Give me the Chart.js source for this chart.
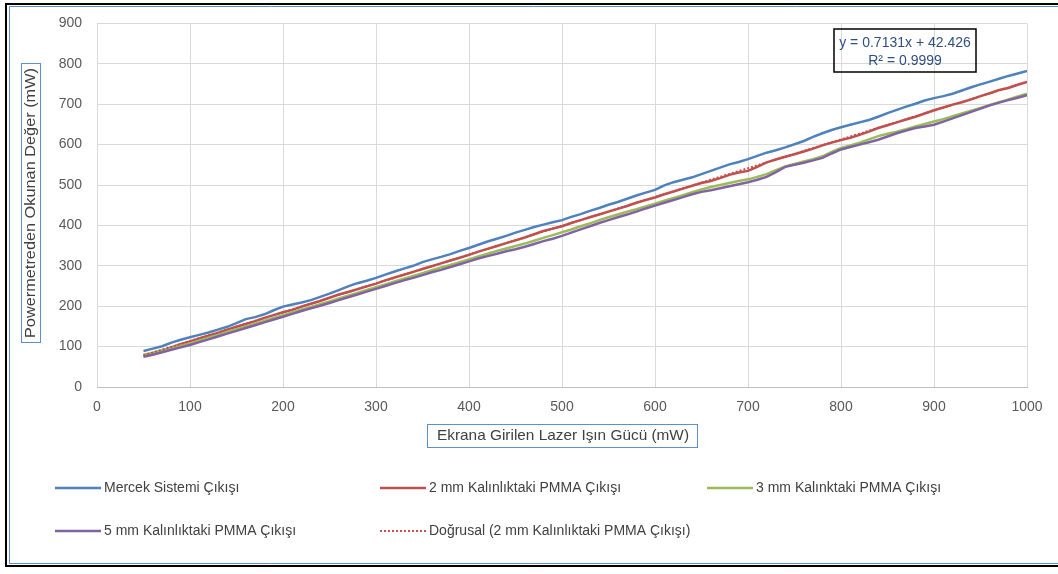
<!DOCTYPE html>
<html>
<head>
<meta charset="utf-8">
<script src="https://cdn.jsdelivr.net/npm/chart.js@4.4.1/dist/chart.umd.min.js"></script>
<style>
  html, body { margin: 0; padding: 0; background: #ffffff; }
  #wrap { width: 1058px; height: 574px; position: relative; }
</style>
</head>
<body>
<div id="wrap"><canvas id="laserChart" width="1058" height="574"></canvas></div>
<script>
// Input laser power (mW), 50 .. 1000 step 10
const laserInput = [
  50, 60, 70, 80, 90, 100, 110, 120, 130, 140, 150, 160, 170, 180, 190, 200,
  210, 220, 230, 240, 250, 260, 270, 280, 290, 300, 310, 320, 330, 340, 350,
  360, 370, 380, 390, 400, 410, 420, 430, 440, 450, 460, 470, 480, 490, 500,
  510, 520, 530, 540, 550, 560, 570, 580, 590, 600, 610, 620, 630, 640, 650,
  660, 670, 680, 690, 700, 710, 720, 730, 740, 750, 760, 770, 780, 790, 800,
  810, 820, 830, 840, 850, 860, 870, 880, 890, 900, 910, 920, 930, 940, 950,
  960, 970, 980, 990, 1000
];

const mercekOut = [
  89, 95, 101, 110, 117, 123, 129, 135, 142, 149, 158, 168, 173, 180, 190, 199,
  204, 209, 215, 223, 231, 240, 249, 257, 263, 270, 278, 286, 293, 300, 309,
  316, 322, 329, 337, 344, 352, 360, 367, 374, 382, 389, 396, 402, 408, 413,
  421, 428, 436, 443, 451, 458, 466, 474, 481, 488, 499, 507, 513, 519, 527,
  535, 543, 551, 557, 564, 572, 580, 586, 593, 601, 609, 619, 628, 636, 643,
  649, 655, 661, 669, 678, 686, 694, 701, 709, 715, 720, 726, 734, 742, 749,
  756, 763, 770, 776, 782
];

const pmma2mm = [
  78, 83, 90, 98, 106, 113, 120, 127, 134, 142, 149, 156, 163, 171, 178, 185,
  191, 199, 206, 213, 221, 229, 235, 242, 249, 256, 264, 271, 278, 285, 292,
  299, 306, 313, 320, 327, 335, 342, 349, 356, 363, 370, 378, 386, 392, 398,
  406, 413, 420, 427, 434, 441, 448, 456, 463, 469, 477, 484, 491, 498, 505,
  510, 517, 525, 531, 535, 545, 556, 563, 570, 576, 583, 590, 598, 605, 611,
  617, 624, 632, 641, 648, 655, 662, 669, 677, 685, 692, 699, 705, 712, 720,
  727, 735, 740, 748, 755
];

const pmma3mm = [
  80, 85, 91, 96, 102, 108, 115, 122, 129, 136, 143, 150, 157, 164, 171, 178,
  185, 192, 198, 205, 212, 219, 226, 233, 240, 247, 254, 261, 268, 275, 282,
  289, 296, 302, 309, 316, 323, 330, 337, 343, 349, 355, 362, 369, 376, 383,
  390, 398, 405, 413, 420, 427, 434, 440, 447, 454, 461, 468, 475, 482, 489,
  495, 500, 505, 510, 514, 520, 527, 537, 546, 552, 558, 564, 571, 582, 592,
  598, 605, 613, 621, 627, 632, 638, 645, 651, 657, 663, 670, 677, 684, 691,
  698, 705, 712, 719, 726
];

const pmma5mm = [
  75, 80, 86, 92, 98, 104, 111, 118, 125, 132, 139, 146, 153, 160, 167, 174,
  181, 188, 195, 201, 208, 215, 222, 229, 236, 243, 250, 257, 264, 270, 277,
  284, 290, 297, 304, 311, 318, 324, 330, 336, 341, 347, 354, 361, 367, 374,
  382, 390, 398, 406, 413, 420, 427, 434, 442, 449, 456, 463, 470, 477, 483,
  487, 492, 497, 502, 507, 513, 520, 532, 545, 550, 555, 561, 567, 578, 588,
  594, 600, 606, 612, 620, 628, 635, 641, 645, 649, 657, 665, 673, 681, 689,
  697, 704, 710, 716, 722
];

// Linear trendline of the 2 mm series (end points)
const trendX = [50, 1000];
const trendY = [78.1, 755.5];

const seriesNames = [
  "Mercek Sistemi Çıkışı",
  "2 mm Kalınlıktaki PMMA Çıkışı",
  "3 mm Kalınktaki PMMA Çıkışı",
  "5 mm Kalınlıktaki PMMA Çıkışı",
  "Doğrusal (2 mm Kalınlıktaki PMMA Çıkışı)"
];
const equationLines = ["y = 0.7131x + 42.426", "R² = 0.9999"];
const xTitle = "Ekrana Girilen Lazer Işın Gücü (mW)";
const yTitle = "Powermetreden Okunan Değer (mW)";

const FONT = "'Liberation Sans', Arial, sans-serif";
const colors = ["#4F81BD", "#C0504D", "#9BBB59", "#8064A2", "#C0504D"];

function toPoints(xs, ys) {
    return xs.map((x, i) => ({ x: x, y: ys[i] }));
}

// draw centred text stretched/squeezed to a given width (Calibri look-alike)
function fitText(ctx, text, width) {
    const w = ctx.measureText(text).width;
    ctx.save();
    ctx.scale(width / w, 1);
    ctx.fillText(text, 0, 0);
    ctx.restore();
}

// Frame, axis title boxes, equation box and legend
const excelDecor = {
    id: "excelDecor",
    afterDraw(chart) {
        const ctx = chart.ctx;
        ctx.save();

        // outer frame
        ctx.strokeStyle = "#000000";
        ctx.lineWidth = 2;
        ctx.beginPath();
        ctx.moveTo(1058, 4);
        ctx.lineTo(6, 4);
        ctx.lineTo(6, 566);
        ctx.lineTo(1058, 566);
        ctx.stroke();
        ctx.strokeStyle = "#5B8FD0";
        ctx.lineWidth = 1;
        ctx.beginPath();
        ctx.moveTo(1058, 6.5);
        ctx.lineTo(9.5, 6.5);
        ctx.lineTo(9.5, 563.5);
        ctx.lineTo(1058, 563.5);
        ctx.stroke();

        // y title
        ctx.strokeStyle = "#5B8FD0";
        ctx.strokeRect(21.5, 63.5, 19, 279);
        ctx.fillStyle = "#404040";
        ctx.font = "14px " + FONT;
        ctx.textAlign = "center";
        ctx.textBaseline = "middle";
        ctx.save();
        ctx.translate(31.5, 203);
        ctx.rotate(-Math.PI / 2);
        fitText(ctx, yTitle, 270);
        ctx.restore();

        // x title
        ctx.strokeRect(427.5, 424.5, 270, 23);
        ctx.font = "15px " + FONT;
        ctx.save();
        ctx.translate(563, 436);
        fitText(ctx, xTitle, 252);
        ctx.restore();

        // equation box
        ctx.strokeStyle = "#000000";
        ctx.lineWidth = 1.5;
        ctx.strokeRect(834, 29, 142, 43);
        ctx.fillStyle = "#2F4F80";
        ctx.font = "14px " + FONT;
        ctx.fillText(equationLines[0], 905, 43);
        ctx.fillText(equationLines[1], 905, 61);

        // legend
        const slots = [[55, 488], [380, 488], [707, 488], [55, 531], [380, 531]];
        ctx.font = "14px " + FONT;
        ctx.textAlign = "left";
        chart.data.datasets.forEach((ds, i) => {
            const [lx, ly] = slots[i];
            ctx.strokeStyle = ds.borderColor;
            ctx.lineWidth = ds.borderWidth;
            ctx.setLineDash(ds.borderDash || []);
            ctx.beginPath();
            ctx.moveTo(lx, ly);
            ctx.lineTo(lx + 46, ly);
            ctx.stroke();
            ctx.setLineDash([]);
            ctx.fillStyle = "#404040";
            ctx.fillText(ds.label, lx + 49, ly);
        });

        ctx.restore();
    }
};

const ctx = document.getElementById("laserChart").getContext("2d");

new Chart(ctx, {
    type: "line",
    data: {
        datasets: [
            { label: seriesNames[0], data: toPoints(laserInput, mercekOut), borderColor: colors[0], borderWidth: 2.5, order: 4 },
            { label: seriesNames[1], data: toPoints(laserInput, pmma2mm), borderColor: colors[1], borderWidth: 2.5, order: 3 },
            { label: seriesNames[2], data: toPoints(laserInput, pmma3mm), borderColor: colors[2], borderWidth: 2.5, order: 2 },
            { label: seriesNames[3], data: toPoints(laserInput, pmma5mm), borderColor: colors[3], borderWidth: 2.5, order: 1 },
            { label: seriesNames[4], data: toPoints(trendX, trendY), borderColor: colors[4], borderWidth: 2, borderDash: [2, 2], order: 0 }
        ]
    },
    options: {
        responsive: false,
        animation: false,
        layout: { padding: { left: 0, top: 23, right: 31, bottom: 0 } },
        elements: {
            point: { radius: 0 },
            line: { tension: 0, fill: false }
        },
        plugins: {
            legend: { display: false },
            tooltip: { enabled: false }
        },
        scales: {
            x: {
                type: "linear",
                min: 0,
                max: 1000,
                ticks: {
                    stepSize: 100, color: "#595959", font: { size: 14, family: FONT }, padding: 12, maxRotation: 0,
                    callback: (v) => String(v)
                },
                grid: { color: "#D9D9D9", drawTicks: false },
                border: { display: true, color: "#BFBFBF" },
                afterFit(scale) { scale.height = 187; }
            },
            y: {
                min: 0,
                max: 900,
                ticks: { stepSize: 100, color: "#595959", font: { size: 14, family: FONT }, padding: 15 },
                grid: { color: "#D9D9D9", drawTicks: false },
                border: { display: false },
                afterFit(scale) { scale.width = 97; }
            }
        }
    },
    plugins: [excelDecor]
});
</script>
</body>
</html>
